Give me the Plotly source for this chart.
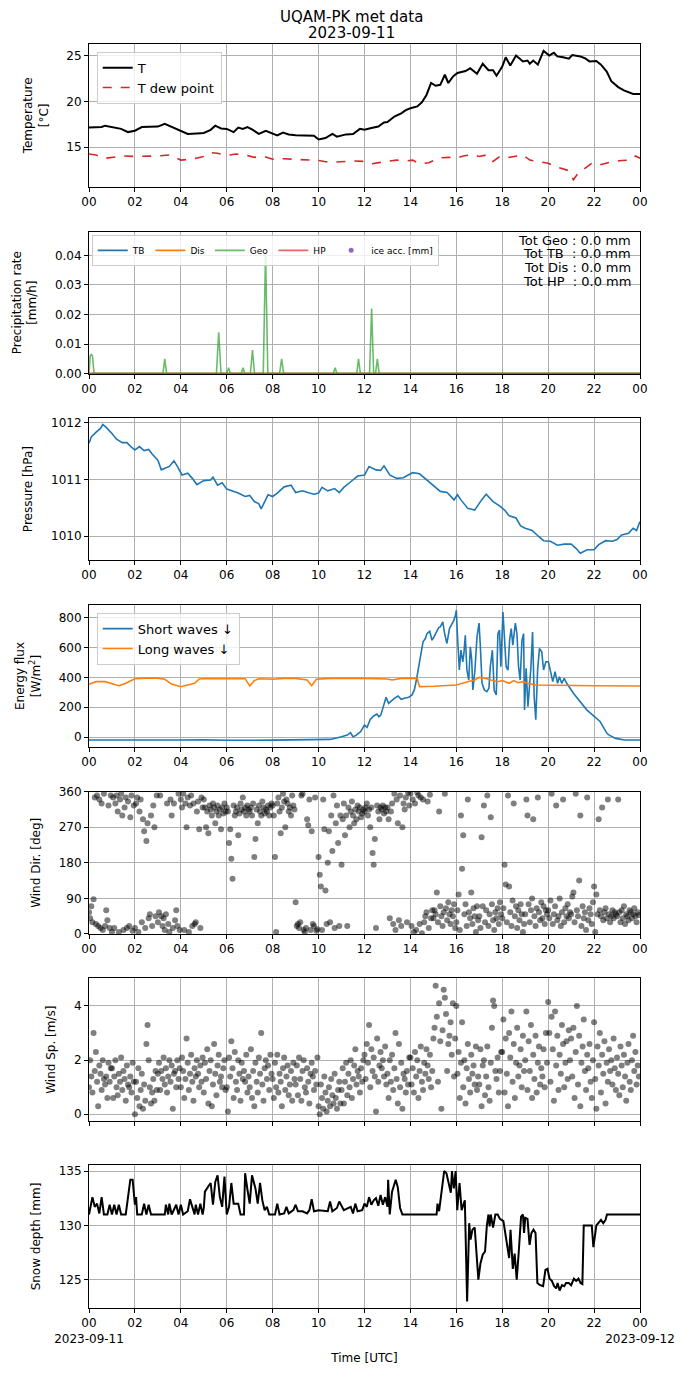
import pandas as pd
import plotly.graph_objects as go

# --- valeurs (heure UTC, valeur) ---
day0 = pd.Timestamp("2023-09-11")

temp_pts = [(0, 17.15), (0.3, 17.15), (0.55, 17.2), (0.7, 17.35), (1.0, 17.2), (1.4, 17.0), (1.7, 16.65),
            (2.0, 16.8), (2.3, 17.2), (2.7, 17.2), (3.0, 17.25), (3.3, 17.55), (3.6, 17.2), (4.0, 16.8),
            (4.3, 16.45), (4.7, 16.5), (5.0, 16.55), (5.3, 16.9), (5.5, 17.35), (5.75, 17.05), (6.0, 17.0),
            (6.3, 16.65), (6.5, 17.15), (6.7, 17.0), (6.9, 17.2), (7.1, 16.95), (7.4, 16.45), (7.7, 16.8),
            (8.0, 16.45), (8.2, 16.3), (8.45, 16.6), (8.7, 16.4), (9.0, 16.3), (9.4, 16.3), (9.8, 16.25),
            (10.0, 15.85), (10.3, 16.0), (10.6, 16.45), (10.8, 16.15), (11.2, 16.4), (11.5, 16.45),
            (11.8, 17.0), (12.0, 16.9), (12.3, 17.1), (12.6, 17.25), (12.85, 17.7), (13.0, 17.75),
            (13.3, 18.35), (13.6, 18.7), (13.8, 19.05), (14.0, 19.25), (14.3, 19.45), (14.5, 19.9),
            (14.7, 20.7), (14.85, 21.8), (14.9, 22.0), (15.1, 21.7), (15.3, 21.8), (15.5, 22.9),
            (15.65, 22.0), (15.85, 22.7), (16.05, 23.1), (16.4, 23.3), (16.6, 23.6), (16.9, 23.0),
            (17.15, 24.1), (17.4, 23.4), (17.6, 23.4), (17.75, 22.8), (18.0, 23.8), (18.15, 24.8),
            (18.35, 23.9), (18.6, 25.0), (18.9, 24.35), (19.1, 24.45), (19.2, 24.1), (19.35, 24.45),
            (19.55, 24.0), (19.8, 25.5), (20.05, 25.0), (20.25, 25.3), (20.4, 24.9), (20.65, 24.8),
            (20.9, 24.65), (21.05, 25.05), (21.4, 24.9), (21.6, 24.7), (21.8, 24.35), (22.1, 24.4),
            (22.3, 24.0), (22.55, 23.25), (22.75, 22.2), (23.05, 21.55), (23.3, 21.2), (23.7, 20.8),
            (24.0, 20.8)]

dew_pts = [(0, 14.27), (0.3, 14.15), (0.7, 13.8), (1.0, 13.9), (1.5, 14.05), (2.0, 14.0), (2.5, 14.0),
           (3.0, 14.05), (3.5, 14.15), (4.0, 13.6), (4.5, 13.7), (5.0, 14.0), (5.3, 14.4), (5.6, 14.35),
           (6.0, 14.1), (6.4, 14.27), (6.8, 14.15), (7.2, 13.9), (7.6, 14.0), (8.0, 13.7), (8.5, 13.75),
           (9.0, 13.7), (9.5, 13.6), (10.0, 13.55), (10.5, 13.35), (11.0, 13.45), (11.5, 13.5),
           (12.0, 13.45), (12.3, 13.2), (12.7, 13.35), (13.0, 13.45), (13.4, 13.6), (13.8, 13.5),
           (14.1, 13.6), (14.4, 13.2), (14.8, 13.3), (15.0, 13.55), (15.3, 13.85), (15.7, 13.9),
           (16.0, 13.8), (16.3, 14.05), (16.7, 14.2), (17.0, 14.0), (17.3, 14.15), (17.6, 13.45),
           (17.9, 14.0), (18.2, 13.85), (18.6, 14.0), (18.9, 14.15), (19.2, 13.6), (19.6, 13.45),
           (20.0, 13.25), (20.3, 12.9), (20.6, 12.7), (20.9, 12.45), (21.1, 11.45), (21.3, 12.15),
           (21.6, 12.7), (21.9, 13.25), (22.2, 13.05), (22.5, 13.25), (22.8, 13.45), (23.2, 13.55),
           (23.6, 13.6), (23.8, 14.05), (24.0, 13.8)]

geo_pts = [(0, 0), (0.05, 0.006), (0.1, 0.0065), (0.15, 0.006), (0.22, 0), (3.22, 0), (3.3, 0.005),
           (3.38, 0), (5.55, 0), (5.65, 0.014), (5.75, 0), (6.0, 0), (6.08, 0.002), (6.16, 0),
           (6.63, 0), (6.71, 0.002), (6.79, 0), (7.03, 0), (7.12, 0.008), (7.21, 0), (7.59, 0),
           (7.69, 0.041), (7.79, 0), (8.3, 0), (8.39, 0.005), (8.48, 0), (10.64, 0), (10.72, 0.002),
           (10.8, 0), (11.66, 0), (11.74, 0.005), (11.82, 0), (12.22, 0), (12.31, 0.022), (12.4, 0),
           (12.48, 0), (12.56, 0.005), (12.64, 0), (24, 0)]
tb_pts = [(0, 0), (24, 0)]
dis_pts = [(0, 0), (24, 0)]
hp_pts = [(0, 0), (24, 0)]
totals = ["Tot Geo : 0.0 mm", "Tot TB\u00a0 : 0.0 mm", "Tot Dis : 0.0 mm", "Tot HP\u00a0 : 0.0 mm"]

pres_pts = [(0, 1011.64), (0.1, 1011.75), (0.3, 1011.83), (0.5, 1011.90), (0.6, 1011.97), (0.75, 1011.92),
            (1.0, 1011.81), (1.2, 1011.71), (1.45, 1011.65), (1.65, 1011.65), (1.8, 1011.59),
            (2.0, 1011.52), (2.2, 1011.58), (2.4, 1011.51), (2.6, 1011.53), (2.75, 1011.45),
            (3.0, 1011.34), (3.15, 1011.17), (3.5, 1011.23), (3.7, 1011.33), (3.85, 1011.23),
            (4.05, 1011.08), (4.3, 1011.11), (4.5, 1011.02), (4.7, 1010.91), (5.0, 1010.98),
            (5.3, 1010.99), (5.4, 1011.04), (5.6, 1010.90), (5.8, 1010.94), (6.0, 1010.83),
            (6.3, 1010.79), (6.5, 1010.76), (6.8, 1010.70), (7.0, 1010.72), (7.2, 1010.61),
            (7.4, 1010.57), (7.5, 1010.48), (7.8, 1010.73), (8.0, 1010.70), (8.2, 1010.76),
            (8.5, 1010.87), (8.8, 1010.90), (9.0, 1010.77), (9.3, 1010.80), (9.6, 1010.76),
            (9.8, 1010.74), (10.0, 1010.76), (10.15, 1010.86), (10.4, 1010.80), (10.7, 1010.84),
            (10.9, 1010.77), (11.1, 1010.86), (11.4, 1010.96), (11.7, 1011.06), (12.0, 1011.08),
            (12.2, 1011.23), (12.5, 1011.17), (12.7, 1011.16), (12.85, 1011.24), (13.1, 1011.08),
            (13.4, 1011.02), (13.7, 1011.03), (13.9, 1011.08), (14.1, 1011.12), (14.4, 1011.10),
            (14.7, 1011.00), (15.0, 1010.89), (15.3, 1010.79), (15.6, 1010.77), (15.9, 1010.64),
            (16.05, 1010.73), (16.2, 1010.64), (16.5, 1010.49), (16.8, 1010.46), (17.1, 1010.64),
            (17.3, 1010.74), (17.6, 1010.61), (17.9, 1010.53), (18.1, 1010.46), (18.3, 1010.36),
            (18.6, 1010.32), (18.8, 1010.18), (19.0, 1010.14), (19.3, 1010.10), (19.6, 1009.99),
            (19.8, 1009.92), (20.1, 1009.91), (20.4, 1009.84), (20.7, 1009.86), (21.0, 1009.86),
            (21.2, 1009.79), (21.4, 1009.70), (21.7, 1009.76), (22.0, 1009.76), (22.2, 1009.85),
            (22.5, 1009.92), (22.8, 1009.91), (23.0, 1009.94), (23.2, 1010.02), (23.5, 1010.05),
            (23.7, 1010.14), (23.85, 1010.10), (24.0, 1010.26)]

sw_pts = [(0, -20), (2, -22), (4, -20), (5, -19), (6, -22), (8, -21), (10, -20), (10.5, -16), (11.0, 2),
          (11.25, 13), (11.39, 29), (11.5, 2), (11.63, 11), (11.83, 36), (12.0, 80), (12.11, 65),
          (12.25, 118), (12.4, 141), (12.54, 154), (12.63, 136), (12.71, 147), (12.82, 203),
          (12.94, 266), (13.05, 226), (13.17, 244), (13.3, 259), (13.46, 275), (13.6, 253),
          (13.74, 260), (13.93, 267), (14.07, 282), (14.17, 316), (14.26, 382), (14.36, 471),
          (14.46, 582), (14.55, 638), (14.65, 660), (14.72, 693), (14.84, 709), (14.94, 649),
          (15.01, 667), (15.12, 704), (15.23, 733), (15.3, 738), (15.41, 771), (15.49, 693),
          (15.59, 627), (15.7, 727), (15.78, 749), (15.88, 778), (15.96, 815), (16.0, 849),
          (16.06, 649), (16.13, 449), (16.2, 582), (16.28, 504), (16.33, 560), (16.39, 682),
          (16.46, 449), (16.54, 382), (16.61, 604), (16.67, 516), (16.72, 316), (16.81, 449),
          (16.9, 671), (16.99, 764), (17.04, 627), (17.12, 360), (17.22, 316), (17.33, 304),
          (17.42, 327), (17.48, 471), (17.57, 582), (17.65, 311), (17.74, 282), (17.81, 693),
          (17.88, 716), (17.94, 471), (18.03, 838), (18.09, 649), (18.17, 471), (18.25, 449),
          (18.32, 649), (18.39, 727), (18.46, 616), (18.57, 764), (18.64, 693), (18.71, 471),
          (18.78, 382), (18.86, 649), (18.93, 693), (18.97, 182), (19.04, 460), (19.12, 204),
          (19.17, 293), (19.25, 471), (19.32, 704), (19.39, 271), (19.46, 116), (19.54, 449),
          (19.62, 593), (19.72, 571), (19.8, 449), (19.9, 504), (20.01, 504), (20.12, 438),
          (20.2, 371), (20.3, 438), (20.41, 360), (20.49, 404), (20.59, 360), (20.7, 393),
          (20.81, 360), (21.1, 293), (21.68, 182), (22.26, 104), (22.37, 74), (22.56, 25),
          (22.66, 13), (22.94, -9), (23.33, -20), (24, -20)]

lw_pts = [(0, 353), (0.3, 371), (0.7, 371), (1.0, 360), (1.3, 344), (1.6, 360), (2.0, 391), (2.5, 395),
          (3.0, 395), (3.3, 387), (3.6, 355), (4.0, 337), (4.3, 349), (4.6, 360), (4.8, 389), (5.0, 391),
          (6.0, 391), (6.8, 391), (7.0, 342), (7.2, 378), (7.4, 391), (8.0, 387), (8.5, 393), (9.0, 393),
          (9.5, 382), (9.7, 344), (9.9, 387), (10.5, 393), (12.0, 393), (13.0, 389), (13.2, 382),
          (13.6, 393), (14.0, 395), (14.3, 393), (14.35, 360), (14.4, 338), (15.0, 340), (16.0, 349),
          (16.5, 371), (16.8, 382), (17.0, 400), (17.3, 393), (17.5, 382), (17.8, 371), (18.0, 378),
          (18.3, 360), (18.5, 378), (18.7, 364), (18.9, 371), (19.2, 356), (19.5, 349), (20.0, 349),
          (21.0, 347), (22.0, 344), (24.0, 342)]

# vent : une valeur toutes les 3 minutes, une ligne par heure
wind_minutes = [0, 3, 6, 9, 12, 15, 18, 21, 24, 27, 30, 33, 36, 39, 42, 45, 48, 51, 54, 57]
wind_dir = [
    [55, 40, 70, 30, 88, 345, 25, 350, 20, 340, 15, 330, 10, 355, 20, 60, 35, 325, 15, 350],
    [5, 345, 15, 330, 350, 310, 5, 340, 355, 300, 10, 320, 345, 15, 335, 20, 295, 350, 8, 325],
    [15, 330, 345, 5, 310, 340, 30, 290, 260, 15, 235, 280, 40, 50, 300, 20, 325, 270, 45, 350],
    [30, 55, 350, 45, 20, 40, 10, 50, 330, 25, 5, 340, 300, 15, 330, 35, 60, 20, 355, 10],
    [340, 320, 355, 10, 330, 270, 345, 5, 325, 350, 20, 330, 25, 30, 310, 335, 265, 15, 345, 320],
    [340, 320, 270, 310, 255, 325, 315, 300, 330, 320, 280, 310, 325, 300, 315, 265, 320, 305, 330, 310],
    [320, 310, 230, 265, 190, 140, 325, 300, 310, 320, 250, 305, 330, 315, 345, 310, 320, 300, 325, 315],
    [310, 320, 300, 330, 195, 240, 315, 280, 325, 310, 300, 335, 320, 305, 315, 310, 325, 300, 320, 330],
    [325, 300, 195, 5, 330, 345, 310, 255, 320, 355, 335, 270, 340, 330, 310, 320, 300, 350, 325, 315],
    [80, 20, 25, 15, 30, 350, 355, 10, 5, 15, 290, 275, 340, 10, 260, 25, 20, 345, 8, 12],
    [195, 150, 120, 10, 340, 265, 110, 25, 180, 260, 30, 300, 210, 350, 15, 280, 325, 230, 20, 300],
    [175, 290, 330, 250, 300, 20, 320, 270, 310, 335, 300, 280, 315, 290, 325, 310, 320, 295, 305, 315],
    [310, 320, 330, 300, 315, 270, 320, 205, 175, 240, 15, 325, 310, 290, 320, 315, 325, 305, 320, 310],
    [320, 290, 40, 310, 330, 25, 355, 10, 340, 280, 35, 350, 20, 270, 330, 315, 345, 30, 358, 325],
    [355, 20, 340, 5, 330, 10, 358, 350, 25, 345, 2, 340, 30, 45, 55, 335, 15, 352, 40, 60],
    [40, 60, 50, 105, 30, 310, 70, 45, 20, 55, 355, 65, 35, 80, 50, 25, 60, 45, 75, 15],
    [30, 60, 100, 10, 300, 165, 250, 50, 75, 20, 340, 55, 40, 105, 25, 65, 45, 5, 70, 35],
    [45, 15, 245, 70, 325, 30, 60, 350, 20, 50, 295, 75, 35, 10, 55, 40, 65, 25, 80, 50],
    [40, 65, 175, 125, 30, 350, 120, 55, 20, 85, 330, 45, 70, 15, 60, 35, 75, 50, 5, 25],
    [50, 340, 300, 75, 30, 60, 90, 290, 45, 20, 65, 345, 55, 35, 80, 40, 70, 25, 60, 50],
    [60, 40, 85, 355, 25, 50, 70, 325, 35, 45, 90, 20, 55, 340, 30, 65, 45, 75, 40, 55],
    [50, 95, 105, 30, 355, 60, 45, 135, 300, 20, 70, 40, 55, 10, 345, 35, 65, 50, 25, 80],
    [120, 5, 100, 50, 290, 60, 45, 320, 35, 55, 65, 40, 340, 50, 30, 45, 60, 40, 55, 50],
    [45, 340, 55, 30, 60, 40, 70, 25, 50, 45, 35, 60, 55, 40, 50, 65, 45, 30, 55, 48],
]
wind_sp = [
    [1.0, 2.0, 1.4, 0.8, 3.0, 1.6, 2.3, 1.2, 0.3, 1.8, 1.5, 0.9, 2.0, 1.3, 1.1, 1.4, 0.6, 1.9, 1.2, 1.7],
    [1.7, 0.6, 1.4, 2.0, 1.0, 0.7, 1.5, 1.2, 2.1, 0.9, 1.6, 1.3, 0.5, 1.8, 1.1, 1.0, 1.4, 0.8, 1.9, 1.2],
    [0.0, 1.2, 0.6, 1.7, 0.3, 0.9, 1.5, 0.2, 1.1, 0.5, 2.6, 3.3, 2.0, 1.0, 0.4, 0.8, 1.3, 0.5, 1.6, 0.9],
    [1.5, 1.9, 0.9, 1.6, 1.3, 2.1, 1.1, 1.7, 0.8, 1.4, 2.0, 1.2, 1.8, 0.2, 1.5, 1.6, 1.0, 2.0, 1.3, 1.7],
    [1.0, 2.1, 1.6, 0.6, 1.3, 2.8, 1.9, 0.9, 1.5, 2.2, 1.2, 0.5, 1.7, 1.4, 2.0, 1.5, 1.0, 1.8, 1.2, 2.1],
    [0.8, 1.9, 1.3, 2.4, 0.4, 1.6, 2.0, 0.3, 1.1, 2.6, 1.5, 0.7, 1.8, 2.2, 1.2, 1.4, 1.0, 1.7, 2.0, 0.9],
    [1.0, 0.1, 2.1, 1.4, 2.7, 1.7, 0.6, 2.3, 1.2, 0.9, 2.0, 1.5, 0.5, 1.9, 1.3, 1.6, 1.2, 2.2, 0.8, 1.4],
    [1.0, 2.4, 0.6, 1.6, 0.3, 1.9, 1.2, 0.8, 2.1, 1.5, 3.0, 1.1, 0.5, 1.7, 2.0, 1.3, 1.8, 0.9, 2.2, 1.5],
    [1.3, 0.6, 1.9, 1.0, 2.2, 0.8, 1.5, 1.2, 0.3, 1.7, 2.1, 0.9, 1.4, 1.8, 0.7, 1.1, 1.6, 0.5, 1.9, 1.3],
    [1.1, 1.8, 0.7, 2.1, 1.3, 0.5, 1.6, 2.0, 1.0, 0.8, 1.7, 1.2, 0.4, 1.5, 1.9, 1.4, 0.9, 1.6, 1.1, 2.1],
    [0.3, 0.0, 1.1, 0.6, 0.2, 1.4, 0.8, 0.1, 0.5, 1.0, 0.3, 1.3, 0.7, 0.4, 1.5, 0.6, 0.2, 0.9, 1.2, 0.4],
    [0.9, 1.7, 0.4, 1.2, 1.9, 0.7, 1.5, 1.0, 2.0, 0.6, 1.3, 1.8, 2.4, 1.1, 1.6, 1.4, 0.8, 1.7, 1.2, 2.0],
    [2.2, 1.3, 2.6, 1.9, 3.3, 1.0, 2.4, 1.6, 2.1, 1.4, 0.1, 2.8, 1.2, 1.8, 2.3, 1.7, 2.0, 1.4, 2.5, 1.1],
    [1.5, 0.6, 2.0, 1.2, 2.2, 0.9, 1.7, 3.0, 1.3, 0.4, 2.6, 1.0, 1.9, 0.2, 1.5, 1.3, 0.8, 1.6, 1.1, 2.1],
    [2.1, 1.1, 1.7, 0.8, 2.3, 1.4, 2.0, 0.6, 1.6, 2.5, 1.2, 0.9, 1.9, 1.5, 2.4, 1.8, 1.3, 2.2, 1.0, 1.6],
    [2.8, 3.2, 4.75, 3.6, 1.2, 4.1, 2.7, 0.2, 3.1, 4.6, 4.3, 3.7, 1.6, 2.6, 2.9, 3.4, 2.2, 4.1, 1.4, 2.8],
    [4.0, 1.5, 2.3, 0.6, 1.9, 3.4, 1.0, 2.0, 0.4, 1.7, 2.6, 1.3, 0.8, 2.2, 1.5, 1.8, 1.1, 2.5, 0.9, 1.4],
    [1.1, 2.4, 0.3, 1.8, 2.0, 0.7, 1.4, 2.5, 1.0, 0.5, 1.9, 3.2, 4.2, 4.0, 1.6, 1.3, 2.1, 0.8, 1.6, 2.3],
    [2.3, 3.5, 0.8, 2.8, 1.5, 0.3, 3.0, 2.1, 3.8, 1.2, 2.6, 0.6, 1.9, 3.2, 1.4, 1.8, 2.4, 1.0, 2.9, 1.6],
    [2.0, 3.8, 0.9, 2.7, 1.6, 3.3, 0.6, 2.2, 1.3, 2.9, 0.8, 1.9, 2.5, 1.1, 1.7, 1.4, 2.4, 1.0, 3.0, 1.9],
    [4.15, 3.0, 1.2, 3.6, 2.4, 0.5, 3.8, 1.8, 2.9, 0.9, 2.2, 1.5, 3.3, 2.6, 1.0, 1.9, 2.7, 1.3, 3.1, 2.0],
    [2.8, 1.4, 3.2, 0.6, 2.3, 4.0, 1.1, 2.9, 0.3, 1.9, 2.5, 3.5, 1.6, 0.9, 2.2, 1.7, 2.6, 1.2, 0.6, 2.0],
    [3.4, 1.3, 0.2, 2.5, 1.8, 3.0, 0.8, 2.2, 1.5, 2.7, 0.4, 1.9, 1.2, 2.4, 1.6, 2.0, 1.1, 2.8, 1.7, 0.9],
    [2.1, 1.5, 0.7, 2.5, 1.8, 1.0, 2.2, 1.4, 0.5, 1.9, 2.6, 1.2, 0.9, 2.0, 2.9, 1.6, 2.3, 1.1, 1.8, 1.4],
]

snow_pts = [(0, 131.0), (0.05, 131.6), (0.15, 132.6), (0.25, 131.7), (0.35, 132.0), (0.45, 131.1),
            (0.55, 132.6), (0.65, 131.0), (0.8, 131.0), (0.9, 131.9), (1.0, 131.0), (1.1, 131.9),
            (1.2, 131.0), (1.3, 131.9), (1.4, 131.0), (1.6, 131.0), (1.7, 132.9), (1.8, 134.2),
            (1.9, 134.2), (2.0, 131.9), (2.05, 132.6), (2.1, 131.0), (2.3, 131.0), (2.4, 132.0),
            (2.5, 131.0), (2.6, 131.9), (2.7, 131.0), (3.3, 131.0), (3.35, 131.9), (3.45, 131.0),
            (3.5, 132.0), (3.6, 131.0), (3.8, 131.9), (3.9, 131.0), (4.0, 131.9), (4.1, 131.0),
            (4.3, 131.3), (4.4, 132.4), (4.5, 131.7), (4.6, 131.0), (4.65, 131.9), (4.75, 131.0),
            (4.85, 132.0), (4.95, 131.0), (5.0, 131.6), (5.05, 133.1), (5.2, 133.6), (5.3, 133.9),
            (5.4, 131.9), (5.5, 134.0), (5.6, 134.6), (5.7, 132.6), (5.8, 131.7), (5.9, 134.5),
            (6.0, 131.0), (6.1, 131.7), (6.2, 133.9), (6.3, 132.0), (6.5, 132.0), (6.6, 131.0),
            (6.75, 131.0), (6.8, 134.8), (6.9, 133.3), (7.0, 132.0), (7.1, 134.6), (7.25, 133.4),
            (7.35, 132.0), (7.45, 133.9), (7.55, 132.3), (7.65, 131.4), (7.75, 131.7), (7.85, 131.0),
            (8.1, 131.0), (8.2, 132.0), (8.3, 131.0), (8.5, 131.1), (8.6, 131.7), (8.7, 131.1),
            (8.9, 131.4), (9.0, 131.9), (9.1, 131.3), (9.3, 131.3), (9.5, 131.1), (9.6, 131.4),
            (9.7, 132.4), (9.8, 131.3), (10.0, 131.4), (10.3, 131.3), (10.4, 131.3), (10.5, 132.2),
            (10.6, 131.3), (10.8, 131.6), (10.9, 132.2), (11.1, 131.4), (11.4, 131.7), (11.5, 131.1),
            (11.6, 132.0), (11.7, 131.3), (11.9, 131.4), (12.0, 132.0), (12.1, 131.7), (12.2, 132.6),
            (12.3, 131.9), (12.4, 132.3), (12.5, 132.5), (12.6, 131.8), (12.7, 132.8), (12.8, 131.9),
            (12.9, 132.6), (13.0, 131.7), (13.03, 134.2), (13.1, 131.0), (13.2, 133.1), (13.36, 134.2),
            (13.45, 133.5), (13.55, 131.6), (13.65, 131.0), (15.14, 131.0), (15.18, 132.0),
            (15.25, 131.3), (15.37, 133.3), (15.47, 135.0), (15.57, 134.8), (15.66, 134.0),
            (15.76, 133.0), (15.81, 135.0), (15.89, 133.4), (15.97, 135.0), (16.04, 131.4),
            (16.14, 133.9), (16.23, 131.4), (16.37, 132.3), (16.47, 123.0), (16.56, 130.2),
            (16.62, 128.7), (16.7, 129.6), (16.8, 129.8), (16.96, 125.0), (17.05, 126.5),
            (17.15, 127.3), (17.25, 127.6), (17.33, 130.0), (17.4, 131.0), (17.45, 129.9),
            (17.5, 131.0), (17.6, 129.8), (17.7, 131.0), (17.8, 131.0), (17.9, 130.6), (18.05, 130.4),
            (18.15, 129.0), (18.2, 128.6), (18.3, 127.0), (18.36, 129.6), (18.46, 126.0),
            (18.54, 127.4), (18.63, 125.0), (18.72, 127.6), (18.82, 130.8), (18.9, 131.0),
            (18.95, 129.3), (19.0, 130.7), (19.1, 130.6), (19.19, 128.2), (19.27, 129.3),
            (19.36, 129.6), (19.45, 129.3), (19.53, 124.7), (19.65, 124.5), (19.78, 124.4),
            (19.88, 125.9), (19.97, 126.0), (20.06, 125.1), (20.16, 124.9), (20.26, 124.4),
            (20.35, 124.2), (20.41, 124.7), (20.5, 124.0), (20.6, 124.5), (20.7, 124.4),
            (20.78, 124.7), (20.9, 124.7), (21.0, 124.5), (21.12, 125.1), (21.22, 124.9),
            (21.32, 125.1), (21.41, 124.7), (21.49, 124.6), (21.55, 130.0), (21.9, 130.0),
            (21.97, 128.0), (22.1, 130.0), (22.3, 130.5), (22.4, 130.2), (22.5, 130.5),
            (22.56, 131.0), (24, 131.0)]

tick_hours = [0, 2, 4, 6, 8, 10, 12, 14, 16, 18, 20, 22, 24]
tick_text = ["00", "02", "04", "06", "08", "10", "12", "14", "16", "18", "20", "22", "00"]


def serie(pts):
    h, v = zip(*pts)
    return day0 + pd.to_timedelta(list(h), unit="h"), list(v)


fig = go.Figure()

# Température
x, y = serie(temp_pts)
fig.add_trace(go.Scatter(x=x, y=y, name="T", mode="lines", line=dict(color="black", width=2),
                         xaxis="x", yaxis="y", legend="legend"))
x, y = serie(dew_pts)
fig.add_trace(go.Scatter(x=x, y=y, name="T dew point", mode="lines",
                         line=dict(color="#d62728", width=1.6, dash="dash"),
                         xaxis="x", yaxis="y", legend="legend"))

# Précipitations
for nom, pts, coul, op in [("TB", tb_pts, "#1f77b4", 1), ("Dis", dis_pts, "#ff7f0e", 1),
                           ("Geo", geo_pts, "#2ca02c", 0.7), ("HP", hp_pts, "#d62728", 0.7)]:
    x, y = serie(pts)
    fig.add_trace(go.Scatter(x=x, y=y, name=nom, mode="lines", opacity=op,
                             line=dict(color=coul, width=1.6, simplify=False),
                             xaxis="x2", yaxis="y2", legend="legend2"))
fig.add_trace(go.Scatter(x=[None], y=[None], name="ice acc. [mm]", mode="markers",
                         marker=dict(color="#9467bd", size=5), xaxis="x2", yaxis="y2", legend="legend2"))

# Pression
x, y = serie(pres_pts)
fig.add_trace(go.Scatter(x=x, y=y, mode="lines", line=dict(color="#1f77b4", width=1.6),
                         showlegend=False, xaxis="x3", yaxis="y3"))

# Rayonnement
x, y = serie(sw_pts)
fig.add_trace(go.Scatter(x=x, y=y, name="Short waves \u2193", mode="lines",
                         line=dict(color="#1f77b4", width=1.6), xaxis="x4", yaxis="y4", legend="legend3"))
x, y = serie(lw_pts)
fig.add_trace(go.Scatter(x=x, y=y, name="Long waves \u2193", mode="lines",
                         line=dict(color="#ff7f0e", width=1.6), xaxis="x4", yaxis="y4", legend="legend3"))

# Vent
wind_t = [day0 + pd.Timedelta(hours=h, minutes=m) for h in range(24) for m in wind_minutes]
wd = [v for row in wind_dir for v in row]
ws = [v for row in wind_sp for v in row]
pts_style = dict(color="rgba(0,0,0,0.5)", size=6, line=dict(width=0))
fig.add_trace(go.Scatter(x=wind_t, y=wd, mode="markers", marker=pts_style, showlegend=False,
                         xaxis="x5", yaxis="y5"))
fig.add_trace(go.Scatter(x=wind_t, y=ws, mode="markers", marker=pts_style, showlegend=False,
                         xaxis="x6", yaxis="y6"))

# Neige
x, y = serie(snow_pts)
fig.add_trace(go.Scatter(x=x, y=y, mode="lines", line=dict(color="black", width=2),
                         showlegend=False, xaxis="x7", yaxis="y7"))

# --- axes ---
domaines = [[0.8871, 1.0], [0.7392, 0.8515], [0.5918, 0.7039], [0.4438, 0.5562],
            [0.2959, 0.4085], [0.1479, 0.2608], [0.0, 0.1131]]
y_titres = ["Temperature<br>[°C]", "Precipitation rate<br>[mm/h]", "Pressure [hPa]",
            "Energy flux<br>[W/m<sup>2</sup>]", "Wind Dir. [deg]", "Wind Sp. [m/s]", "Snow depth [mm]"]
y_ranges = [[10.7, 26.25], [0, 0.048], [1009.58, 1012.08], [-67, 885], [0, 360], [-0.25, 5.02],
            [122.4, 135.55]]
y_ticks = [[15, 20, 25], [0, 0.01, 0.02, 0.03, 0.04], [1010, 1011, 1012], [0, 200, 400, 600, 800],
           [0, 90, 180, 270, 360], [0, 2, 4], [125, 130, 135]]

tickvals = list(day0 + pd.to_timedelta(tick_hours, unit="h"))
axe = dict(showline=True, mirror=True, linecolor="black", linewidth=1, ticks="outside", ticklen=4,
           tickcolor="black", showgrid=True, gridcolor="#b0b0b0", gridwidth=0.8, zeroline=False,
           tickfont=dict(size=12))
layout = {}
for i in range(7):
    k = "" if i == 0 else str(i + 1)
    txt = list(tick_text)
    if i == 6:
        txt[0] = "00<br>2023-09-11"
        txt[-1] = "00<br>2023-09-12"
    layout["xaxis" + k] = dict(axe, domain=[0, 1], anchor="y" + k, range=[tickvals[0], tickvals[-1]],
                               tickvals=tickvals, ticktext=txt, showticklabels=(i != 5))
    layout["yaxis" + k] = dict(axe, domain=domaines[i], anchor="x" + k, range=y_ranges[i],
                               tickvals=y_ticks[i], title=dict(text=y_titres[i], font=dict(size=12)))
layout["yaxis2"]["tickformat"] = ".2f"
layout["xaxis7"]["title"] = dict(text="Time [UTC]", font=dict(size=12), standoff=8)

boite = dict(bgcolor="rgba(255,255,255,0.8)", bordercolor="#cccccc", borderwidth=1,
             xanchor="left", yanchor="top", tracegroupgap=0)
fig.update_layout(
    **layout,
    width=690, height=1377,
    margin=dict(l=89, r=50, t=44, b=69),
    paper_bgcolor="white", plot_bgcolor="white",
    font=dict(family="DejaVu Sans", size=12, color="black"),
    legend=dict(boite, x=0.014, y=0.9939, font=dict(size=13)),
    legend2=dict(boite, x=0.005, y=0.849, orientation="h", font=dict(size=9), itemwidth=30),
    legend3=dict(boite, x=0.014, y=0.5501, font=dict(size=13)),
)

# titre sur deux lignes
for txt, yy in [("UQAM-PK met data", 1.0214), ("2023-09-11", 1.0087)]:
    fig.add_annotation(text=txt, xref="paper", yref="paper", x=0.4755, y=yy, xanchor="center",
                       yanchor="middle", showarrow=False, font=dict(size=15))

for txt, yy in zip(totals, [0.8449, 0.8339, 0.8230, 0.8124]):
    fig.add_annotation(text=txt, xref="paper", yref="paper", x=0.988, y=yy, xanchor="right",
                       yanchor="middle", showarrow=False, font=dict(size=13))

fig.write_html("out.html", config={"displayModeBar": False},
               post_script="document.body.style.margin='0';")
